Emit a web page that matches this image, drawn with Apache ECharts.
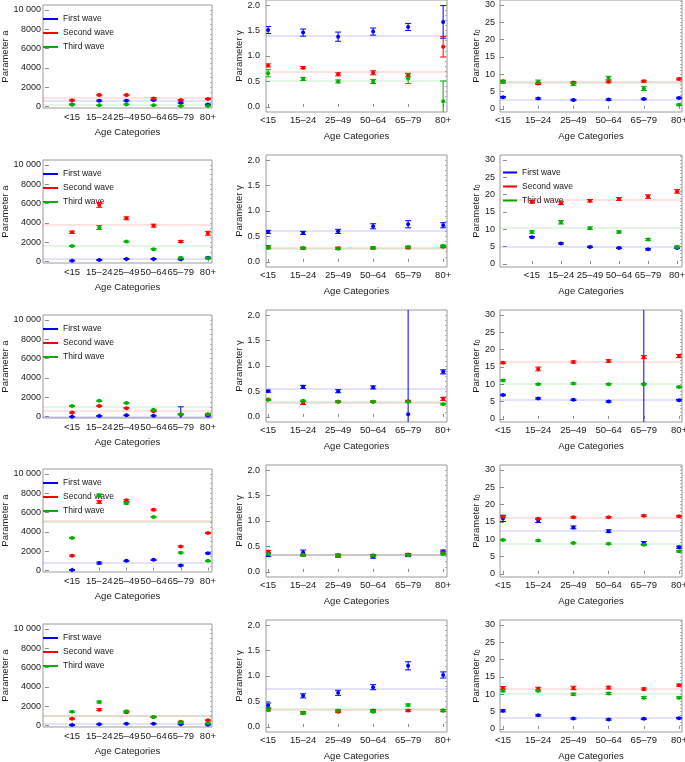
<!DOCTYPE html>
<html><head><meta charset="utf-8">
<script src="https://cdn.jsdelivr.net/npm/echarts@6/dist/echarts.min.js"></script>
<style>html,body{margin:0;padding:0;background:#fff}#c{width:685px;height:762px}</style>
</head><body><div id="c"></div><script>
const categories = ['<15', '15–24', '25–49', '50–64', '65–79', '80+'];
const waveNames = ['First wave', 'Second wave', 'Third wave'];
const waveColors = ['#0000ff', '#ff0000', '#00b000'];

const aTicks = [0, 2000, 4000, 6000, 8000, 10000];
const gammaTicks = [0, 0.5, 1.0, 1.5, 2.0];
const t0Ticks = [0, 5, 10, 15, 20, 25, 30];

// values per wave (first, second, third), errors, reference levels
const a1Val = [[230, 620, 620, 680, 410, 230], [650, 1200, 1200, 850, 680, 790], [230, 140, 240, 140, 70, 70]];
const a1Err = [[30, 60, 60, 60, 60, 40], [60, 70, 70, 80, 60, 60], [40, 40, 40, 40, 30, 30]];
const a1Ref = [580, 960, 150];
const g1Val = [[1.51, 1.46, 1.38, 1.48, 1.57, 1.67], [0.815, 0.77, 0.64, 0.67, 0.62, 1.18], [0.66, 0.55, 0.50, 0.50, 0.56, 0.11]];
const g1Err = [[0.07, 0.07, 0.09, 0.07, 0.07, 0.32], [0.03, 0.02, 0.03, 0.04, 0.03, 0.2], [0.07, 0.03, 0.03, 0.04, 0.1, 0.4]];
const g1Ref = [1.40, 0.70, 0.52];
const t1Val = [[3.36, 2.96, 2.57, 2.67, 2.86, 3.16], [8.0, 7.3, 7.6, 7.8, 8.0, 8.6], [7.8, 7.8, 7.1, 8.9, 5.9, 1.2]];
const t1Err = [[0.2, 0.2, 0.2, 0.2, 0.2, 0.2], [0.25, 0.25, 0.25, 0.25, 0.25, 0.25], [0.4, 0.5, 0.4, 0.5, 0.6, 0.2]];
const t1Ref = [2.6, 7.8, 7.6];

const a2Val = [[100, 170, 275, 275, 240, 410], [3034, 5860, 4480, 3720, 2070, 2930], [1620, 3520, 2070, 1280, 410, 345]];
const a2Err = [[40, 50, 50, 50, 50, 60], [120, 250, 150, 150, 100, 200], [60, 200, 60, 60, 60, 60]];
const a2Ref = [275, 3860, 1655];
const g2Val = [[0.59, 0.57, 0.60, 0.70, 0.74, 0.72], [0.295, 0.27, 0.27, 0.275, 0.28, 0.30], [0.275, 0.27, 0.26, 0.275, 0.295, 0.315]];
const g2Err = [[0.03, 0.03, 0.04, 0.05, 0.07, 0.05], [0.02, 0.02, 0.02, 0.02, 0.02, 0.02], [0.015, 0.015, 0.015, 0.015, 0.015, 0.015]];
const g2Ref = [0.62, 0.28, 0.25];
const t2Val = [[7.7, 5.9, 4.9, 4.6, 4.2, 4.6], [17.9, 17.5, 18.2, 18.7, 19.4, 20.9], [9.2, 12.0, 10.3, 9.2, 7.0, 4.9]];
const t2Err = [[0.2, 0.2, 0.2, 0.2, 0.2, 0.2], [0.4, 0.4, 0.35, 0.4, 0.5, 0.5], [0.35, 0.5, 0.35, 0.3, 0.3, 0.3]];
const t2Ref = [4.9, 18.4, 10.3];

const a3Val = [[0, 70, 140, 100, 200, 100], [420, 1100, 880, 565, 230, 210], [1100, 1630, 1410, 710, 250, 250]];
const a3Err = [[30, 40, 40, 40, 820, 40], [50, 60, 60, 60, 50, 40], [50, 60, 60, 60, 50, 50]];
const a3Ref = [30, 600, 1060];
const g3Val = [[0.505, 0.59, 0.505, 0.58, 0.05, 0.885], [0.34, 0.275, 0.30, 0.30, 0.31, 0.355], [0.335, 0.315, 0.30, 0.30, 0.295, 0.25]];
const g3Err = [[0.02, 0.03, 0.03, 0.03, 3, 0.04], [0.015, 0.03, 0.015, 0.015, 0.015, 0.03], [0.012, 0.012, 0.012, 0.012, 0.012, 0.012]];
const g3Ref = [0.557, 0.282, 0.295];
const t3Val = [[6.9, 5.9, 5.5, 5.0, 10, 5.4], [16.2, 14.4, 16.4, 16.7, 17.8, 18.1], [11.1, 10.0, 10.2, 10.0, 10.0, 9.2]];
const t3Err = [[0.2, 0.2, 0.2, 0.2, 60, 0.2], [0.2, 0.55, 0.3, 0.35, 0.45, 0.45], [0.2, 0.2, 0.2, 0.2, 0.2, 0.2]];
const t3Ref = [5.4, 16.4, 10.2];

const a4Val = [[70, 780, 1010, 1115, 540, 1790], [1550, 7090, 7260, 6280, 2500, 3885], [3380, 7770, 6960, 5540, 1860, 1010]];
const a4Err = [[40, 100, 60, 60, 60, 60], [60, 130, 100, 80, 60, 60], [60, 150, 80, 60, 60, 60]];
const a4Ref = [845, 5120, 5060];
const g4Val = [[0.33, 0.38, 0.32, 0.30, 0.33, 0.40], [0.40, 0.33, 0.32, 0.32, 0.34, 0.38], [0.35, 0.33, 0.32, 0.32, 0.33, 0.35]];
const g4Err = [[0.03, 0.05, 0.03, 0.03, 0.03, 0.03], [0.02, 0.02, 0.02, 0.02, 0.02, 0.02], [0.015, 0.015, 0.015, 0.015, 0.015, 0.015]];
const g4Ref = [0.33, 0.33, 0.33];
const t4Val = [[16.0, 15.3, 13.4, 12.3, 8.9, 7.7], [16.5, 15.9, 16.3, 16.3, 16.8, 16.6], [9.8, 9.6, 8.9, 8.7, 8.4, 6.5]];
const t4Err = [[0.9, 0.5, 0.4, 0.4, 0.4, 0.3], [0.2, 0.2, 0.2, 0.2, 0.2, 0.2], [0.2, 0.2, 0.2, 0.2, 0.2, 0.2]];
const t4Ref = [12.5, 16.3, 8.8];

const a5Val = [[70, 140, 205, 205, 140, 100], [720, 1650, 1375, 890, 410, 550], [1440, 2440, 1480, 890, 340, 240]];
const a5Err = [[40, 40, 40, 40, 40, 40], [60, 100, 70, 60, 50, 50], [60, 100, 70, 60, 50, 50]];
const a5Ref = [240, 1000, 1060];
const g5Val = [[0.42, 0.61, 0.67, 0.78, 1.2, 1.02], [0.35, 0.28, 0.30, 0.32, 0.32, 0.32], [0.33, 0.27, 0.32, 0.30, 0.43, 0.32]];
const g5Err = [[0.05, 0.04, 0.05, 0.05, 0.08, 0.06], [0.02, 0.02, 0.02, 0.02, 0.02, 0.02], [0.02, 0.02, 0.02, 0.02, 0.02, 0.02]];
const g5Ref = [0.74, 0.33, 0.35];
const t5Val = [[5.2, 3.9, 3.0, 2.7, 2.9, 3.1], [11.8, 11.6, 11.8, 11.9, 11.5, 12.6], [11.0, 11.0, 10.0, 10.2, 9.0, 9.0]];
const t5Err = [[0.3, 0.2, 0.2, 0.2, 0.2, 0.2], [0.4, 0.4, 0.5, 0.4, 0.3, 0.3], [0.3, 0.3, 0.3, 0.3, 0.3, 0.3]];
const t5Ref = [3.1, 11.6, 10.2];

const panels = [
  [a1Val, a1Err, a1Ref], [g1Val, g1Err, g1Ref], [t1Val, t1Err, t1Ref],
  [a2Val, a2Err, a2Ref], [g2Val, g2Err, g2Ref], [t2Val, t2Err, t2Ref],
  [a3Val, a3Err, a3Ref], [g3Val, g3Err, g3Ref], [t3Val, t3Err, t3Ref],
  [a4Val, a4Err, a4Ref], [g4Val, g4Err, g4Ref], [t4Val, t4Err, t4Ref],
  [a5Val, a5Err, a5Ref], [g5Val, g5Err, g5Ref], [t5Val, t5Err, t5Ref]
];

const FONT = 'Liberation Sans, Arial, sans-serif';
const TXT = '#1a1a1a';
const colLeft = [43, 266, 500];
const colWidth = [169, 181, 182];
const rowTopA = [5, 160, 315, 469, 624];
const rowTopB = [0, 155, 310, 465, 620];

function range(a, b, s) { const r = []; for (let v = a; v <= b + 1e-9; v += s) r.push(+v.toFixed(4)); return r; }

const colCfg = [
  { name: 'Parameter a', ymin: -140, ymax: 10500, ticks: aTicks, minor: range(500, 10000, 500),
    fmt: v => v === 10000 ? '10 000' : String(v), nameGap: 33, margin: 2 },
  { name: 'Parameter γ', ymin: -0.1, ymax: 2.1, ticks: gammaTicks, minor: range(0.1, 2.0, 0.1),
    fmt: v => v.toFixed(1), nameGap: 22, margin: 6 },
  { name: 'Parameter {it|t}{sub|0}', ymin: -0.9, ymax: 31.4, ticks: t0Ticks, minor: range(1, 31, 1),
    fmt: v => String(v), nameGap: 18, margin: 5 }
];

const catPos = [1, 2, 3, 4, 5, 6];
const grids = [], xAxes = [], yAxes = [], series = [], legends = [];
const axisGray = '#8c8c8c';

function renderErr(params, api) {
  const x = api.value(0), y = api.value(1), e = api.value(2);
  const p0 = api.coord([x, y - e]);
  const p1 = api.coord([x, y + e]);
  const st = { stroke: api.visual('color'), lineWidth: 1 };
  return { type: 'group', children: [
    { type: 'line', shape: { x1: p0[0], y1: p0[1], x2: p1[0], y2: p1[1] }, style: st },
    { type: 'line', shape: { x1: p0[0] - 3, y1: p0[1], x2: p0[0] + 3, y2: p0[1] }, style: st },
    { type: 'line', shape: { x1: p1[0] - 3, y1: p1[1], x2: p1[0] + 3, y2: p1[1] }, style: st }
  ]};
}

panels.forEach((p, i) => {
  const row = Math.floor(i / 3), col = i % 3;
  const cfg = colCfg[col];
  const top = col === 0 ? rowTopA[row] : rowTopB[row];
  const height = col === 0 ? 103 : 112;
  grids.push({ left: colLeft[col], top: top, width: colWidth[col], height: height,
    show: true, borderColor: '#9a9a9a', borderWidth: 1, backgroundColor: 'transparent',
    containLabel: false, outerBoundsMode: 'none' });
  let xr;
  if (col === 0) xr = [-0.07, 6.15];
  else if (col === 1) xr = [0.94, 6.11];
  else xr = row === 1 ? [-0.1, 6.17] : [0.915, 6.085];
  xAxes.push({ type: 'value', gridIndex: i, min: xr[0], max: xr[1],
    axisLine: { show: false }, splitLine: { show: false },
    axisTick: { show: true, inside: true, length: 3, customValues: catPos, lineStyle: { color: axisGray } },
    axisLabel: { customValues: catPos, formatter: v => categories[Math.round(v) - 1] || '',
      fontSize: 9.5, color: TXT, margin: col === 0 ? 4 : 3, fontFamily: FONT },
    name: 'Age Categories', nameLocation: 'middle', nameGap: 19.5, nameMoveOverlap: false,
    nameTextStyle: { fontSize: 9.5, color: TXT, fontFamily: FONT } });
  yAxes.push({ type: 'value', gridIndex: i, min: cfg.ymin, max: cfg.ymax,
    axisLine: { show: false }, splitLine: { show: false },
    axisTick: { show: true, inside: true, length: 4, customValues: cfg.ticks, lineStyle: { color: axisGray } },
    axisLabel: { customValues: cfg.ticks, formatter: cfg.fmt, fontSize: 9, color: TXT, margin: cfg.margin, fontFamily: FONT },
    name: cfg.name, nameLocation: 'middle', nameRotate: 90, nameGap: cfg.nameGap, nameMoveOverlap: false,
    nameTextStyle: { fontSize: 9.5, color: TXT, fontFamily: FONT,
      rich: { it: { fontStyle: 'italic', fontSize: 9.5, fontFamily: FONT, color: TXT },
              sub: { fontSize: 7, fontFamily: FONT, color: TXT, verticalAlign: 'bottom', padding: [5, 0, 0, 0] } } } });
  yAxes.push({ type: 'value', gridIndex: i, min: cfg.ymin, max: cfg.ymax,
    axisLine: { show: false }, splitLine: { show: false },
    axisTick: { show: true, inside: true, length: 2, customValues: cfg.minor, lineStyle: { color: '#b0b0b0' } },
    axisLabel: { show: false } });
  const [vals, errs, refs] = p;
  for (let w = 0; w < 3; w++) {
    const errData = [], ptData = [];
    vals[w].forEach((v, k) => {
      if (v === null) return;
      errData.push([catPos[k], v, errs[w][k]]);
      ptData.push([catPos[k], v]);
    });
    series.push({ type: 'custom', name: waveNames[w], xAxisIndex: i, yAxisIndex: 2 * i,
      data: errData, renderItem: renderErr, clip: true, silent: true, z: 3 + w,
      itemStyle: { color: waveColors[w] } });
    series.push({ type: 'scatter', name: waveNames[w], xAxisIndex: i, yAxisIndex: 2 * i,
      data: ptData, symbolSize: 4, itemStyle: { color: waveColors[w], opacity: 1 }, silent: true, z: 3 + w, clip: true,
      markLine: { silent: true, symbol: 'none', label: { show: false }, animation: false,
        lineStyle: { color: waveColors[w], opacity: 0.15, width: 1.5, type: 'solid' },
        data: [{ yAxis: refs[w] }] } });
  }
});

function legendAt(left, top, w) {
  return { orient: 'vertical', left: left, top: top, itemWidth: w, itemHeight: 2, itemGap: 4,
    icon: 'rect', data: waveNames, selectedMode: false, padding: 0,
    itemStyle: { borderWidth: 0 },
    textStyle: { fontSize: 8.5, lineHeight: 10, color: TXT, fontFamily: FONT } };
}
rowTopA.forEach(t => legends.push(legendAt(43, t + 9, 15)));
legends.push(legendAt(503, 167.5, 14));

const chart = echarts.init(document.getElementById('c'), null, { renderer: 'canvas' });
chart.setOption({ animation: false, backgroundColor: '#fff', textStyle: { fontFamily: FONT },
  grid: grids, xAxis: xAxes, yAxis: yAxes, series: series, legend: legends });
</script></body></html>
